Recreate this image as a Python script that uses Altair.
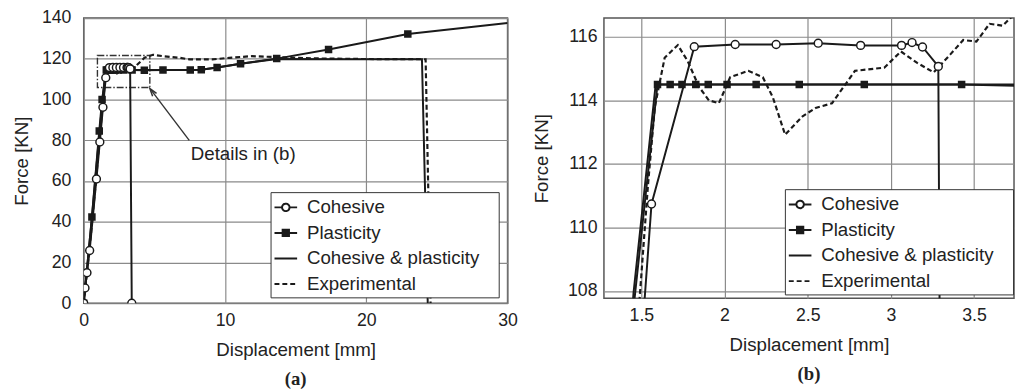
import altair as alt
import pandas as pd

SERIES = ["Cohesive", "Plasticity", "Cohesive & plasticity", "Experimental"]

coh_x = [0, 0.09, 0.23, 0.42, 0.9, 1.14, 1.36, 1.561, 1.818, 2.064, 2.31, 2.563, 2.818, 3.064, 3.127, 3.19, 3.285, 3.4]
coh_y = [0, 7.5, 15, 25.9, 61, 79.2, 96.2, 110.74, 115.69, 115.76, 115.76, 115.8, 115.73, 115.73, 115.82, 115.68, 115.07, 0]

pla_x = [0, 0.58, 1.1, 1.3, 1.597, 1.673, 1.744, 1.827, 1.902, 2.015, 2.19, 2.449, 2.84, 3.425,
         4.29, 5.61, 7.54, 8.32, 9.44, 11.1, 13.66, 17.33, 22.94, 30]
pla_y = [0, 42.4, 84.6, 100, 114.5, 114.5, 114.5, 114.5, 114.5, 114.5, 114.5, 114.5, 114.5, 114.5,
         114.4, 114.5, 114.5, 114.6, 115.7, 117.6, 120.1, 124.6, 132.2, 137.6]

cp_x = [0, 0.6, 1.1, 1.3, 1.453, 1.522, 1.586, 3.5, 8.3, 9.44, 11.1, 13.66, 18, 23.94, 24.35]
cp_y = [0, 43.5, 83, 97, 107.95, 111.35, 114.5, 114.5, 114.6, 115.7, 117.6, 119.9, 119.8, 119.8, 0]

exp_x = [0, 0.5, 0.9, 1.3, 1.492, 1.54, 1.581, 1.64, 1.719, 1.778, 1.847, 1.906, 1.966, 2.034, 2.143,
         2.23, 2.29, 2.364, 2.469, 2.547, 2.646, 2.715, 2.784, 2.96, 3.06, 3.158, 3.257, 3.356,
         3.435, 3.514, 3.593, 3.672, 3.72, 3.8, 4.3, 4.9, 5.6, 6.8, 7.5, 9.1, 10.3, 11.9, 13.0,
         15.1, 16.5, 20.0, 24.2, 24.55]
exp_y = [0, 33, 63, 94, 107.95, 111.35, 113.8, 115.34, 115.74, 115.24, 114.42, 114.0, 113.91, 114.73, 114.93,
         114.73, 114.1, 112.92, 113.5, 113.76, 113.91, 114.42, 114.93, 115.03, 115.54, 115.18, 114.88, 115.44,
         115.9, 115.85, 116.41, 116.35, 116.6, 117.2, 120.5, 122.0, 121.3, 120.5, 119.7, 119.7, 120.5, 121.3, 121.0,
         120.5, 120.2, 119.9, 119.8, 0]

# legend glyphs (line with marker), as SVG paths in the [-1, 1] symbol space
LEGEND_SHAPES = [
    "M-1,0H-0.33M0.33,0H1M-0.33,0A0.33,0.33 0 1,0 0.33,0A0.33,0.33 0 1,0 -0.33,0",
    "M-1,0H1M-0.28,-0.28H0.28V0.28H-0.28Z",
    "M-1,0H1",
    "M-1,0H1",
]
LEGEND_FILLS = ["white", "#1a1a1a", "transparent", "transparent"]
LEGEND_STROKES = ["#1a1a1a", "#1a1a1a", "#1a1a1a", "#1a1a1a"]
DASHES = [[1, 0], [1, 0], [1, 0], [5, 3]]

# annotation in panel (a)
box_x = [0.97]
box_x2 = [4.68]
box_y = [105.9]
box_y2 = [121.6]
arrow_x = [7.47]
arrow_y = [80.0]
arrow_x2 = [4.72]
arrow_y2 = [105.1]
head_x = [4.68]
head_y = [105.4]
note_x = [7.58]
note_y = [70.5]
note_text = ["Details in (b)"]


def frame(name, xs, ys):
    return pd.DataFrame({"x": xs, "y": ys, "series": name, "i": list(range(len(xs)))})


df = pd.concat([frame("Cohesive", coh_x, coh_y),
                frame("Plasticity", pla_x, pla_y),
                frame("Cohesive & plasticity", cp_x, cp_y),
                frame("Experimental", exp_x, exp_y)], ignore_index=True)

FONT = "Liberation Sans"
INK = "#1a1a1a"
TXT = "#222222"


def panel(xdom, ydom, xticks, yticks, xfmt, w, h, lab_pad, ttl_pad, lx, ly, title, annotate):
    xs = alt.Scale(domain=xdom, nice=False, zero=False)
    ys = alt.Scale(domain=ydom, nice=False, zero=False)
    xa = alt.Axis(values=xticks, title="Displacement [mm]", grid=True, ticks=False, domain=False,
                  labelPadding=9, titlePadding=11, labelFont=FONT, labelFontSize=18, labelColor=TXT,
                  titleFont=FONT, titleFontSize=19, titleFontWeight="normal", titleColor=TXT,
                  gridColor="#8a8a8a", gridWidth=1.2, labelFlush=False, format=xfmt)
    ya = alt.Axis(values=yticks, title="Force [KN]", grid=True, ticks=False, domain=False,
                  labelPadding=lab_pad, titlePadding=ttl_pad, labelFont=FONT, labelFontSize=18, labelColor=TXT,
                  titleFont=FONT, titleFontSize=19, titleFontWeight="normal", titleColor=TXT,
                  gridColor="#8a8a8a", gridWidth=1.2, format="d")
    leg = alt.Legend(title=None, orient="none", legendX=lx, legendY=ly,
                     symbolSize=529, symbolStrokeWidth=2, symbolStrokeColor=INK,
                     labelFont=FONT, labelFontSize=19, labelColor=TXT, labelOffset=9, labelLimit=400,
                     labelExpr="datum.label + '\u00a0\u00a0\u00a0\u200b'",
                     rowPadding=3, padding=3, strokeColor="#333333", fillColor="white")
    base = alt.Chart(df)
    X = alt.X("x:Q", scale=xs, axis=xa)
    Y = alt.Y("y:Q", scale=ys, axis=ya)
    solid = base.transform_filter(alt.datum.series != "Experimental").mark_line(
        clip=True, color=INK, strokeWidth=2
    ).encode(x=X, y=Y, detail="series:N", order="i:Q")
    dashed = base.transform_filter(alt.datum.series == "Experimental").mark_line(
        clip=True, color=INK, strokeWidth=2.2, strokeDash=[5, 3]
    ).encode(x=X, y=Y, order="i:Q")
    circles = base.transform_filter(alt.datum.series == "Cohesive").mark_point(
        shape="circle", fill="white", fillOpacity=1, stroke=INK, strokeWidth=1.5, size=64, opacity=1, clip=True
    ).encode(x=X, y=Y)
    squares = base.transform_filter((alt.datum.series == "Plasticity") & (alt.datum.x < 29)).mark_point(
        shape="square", filled=True, color=INK, size=58, opacity=1, clip=True
    ).encode(x=X, y=Y)
    # one row per series, moved outside the plot (clipped) - only used to build the legend
    legend_layer = base.transform_filter(alt.datum.i == 0).transform_calculate(
        x="-1000", y="-1000"
    ).mark_point(filled=False, strokeWidth=2, opacity=1, clip=True).encode(
        x=X, y=Y,
        shape=alt.Shape("series:N", scale=alt.Scale(domain=SERIES, range=LEGEND_SHAPES), legend=leg),
        fill=alt.Fill("series:N", scale=alt.Scale(domain=SERIES, range=LEGEND_FILLS), legend=leg),
        stroke=alt.Stroke("series:N", scale=alt.Scale(domain=SERIES, range=LEGEND_STROKES), legend=leg),
        strokeDash=alt.StrokeDash("series:N", scale=alt.Scale(domain=SERIES, range=DASHES), legend=leg),
    )
    layers = [solid, dashed, squares, circles, legend_layer]
    if annotate:
        bdf = pd.DataFrame({"x": box_x, "x2": box_x2, "y": box_y, "y2": box_y2})
        box = alt.Chart(bdf).mark_rect(filled=False, stroke="#333333", strokeWidth=1.4,
                                       strokeDash=[7, 2, 1.5, 2]).encode(
            x=X, x2="x2:Q", y=Y, y2="y2:Q")
        adf = pd.DataFrame({"x": arrow_x, "y": arrow_y, "x2": arrow_x2, "y2": arrow_y2})
        arrow = alt.Chart(adf).mark_rule(color="#333333", strokeWidth=1.4).encode(
            x=X, y=Y, x2="x2:Q", y2="y2:Q")
        hdf = pd.DataFrame({"x": head_x, "y": head_y})
        head = alt.Chart(hdf).mark_point(shape="M-0.5,1.6L0,0L0.5,1.6", filled=False, stroke="#333333",
                                         strokeWidth=1.5, size=100, angle=323, opacity=1).encode(x=X, y=Y)
        ndf = pd.DataFrame({"x": note_x, "y": note_y, "t": note_text})
        note = alt.Chart(ndf).mark_text(align="left", baseline="alphabetic", font=FONT, fontSize=19,
                                        color=TXT).encode(x=X, y=Y, text="t:N")
        layers = [box, arrow, head, note] + layers
    return alt.layer(*layers).properties(
        width=w, height=h,
        title=alt.TitleParams(title, orient="bottom", font="Liberation Serif", fontWeight="bold",
                              fontSize=19, color=TXT, anchor="middle", frame="group", offset=11)
    )


pa = panel([0, 30], [0, 140], [0, 10, 20, 30], [0, 20, 40, 60, 80, 100, 120, 140], "d", 431, 290, 13, 10,
           190, 177, "(a)", True)
pb = panel([1.275, 3.74], [107.77, 116.59], [1.5, 2, 2.5, 3, 3.5], [108, 110, 112, 114, 116], "~g", 417, 285,
           7, 16, 184, 174, "(b)", False)

chart = alt.hconcat(pa, pb, spacing=14).resolve_scale(
    x="independent", y="independent", strokeDash="independent", shape="independent", fill="independent",
    stroke="independent"
).resolve_legend(strokeDash="independent", shape="independent", fill="independent",
                 stroke="independent").properties(
    padding={"left": 4, "top": -3, "right": 0, "bottom": 0}
).configure_view(stroke="#555555", strokeWidth=1.5)

chart.save("out.html", embed_options={"renderer": "svg", "actions": False})
